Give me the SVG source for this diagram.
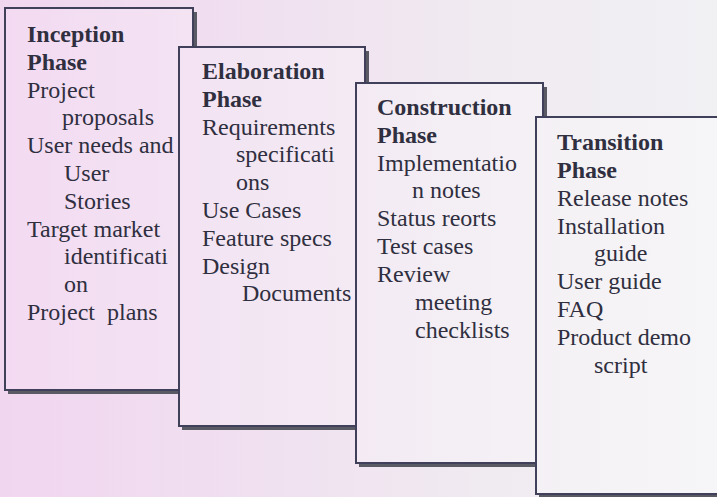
<svg xmlns="http://www.w3.org/2000/svg" width="717" height="497" viewBox="0 0 717 497">
<defs>
<linearGradient id="bg" x1="0" y1="0" x2="717" y2="0" gradientUnits="userSpaceOnUse">
<stop offset="0" stop-color="#f1d6f0"/>
<stop offset="0.35" stop-color="#f0e0f0"/>
<stop offset="0.7" stop-color="#f0ebf1"/>
<stop offset="1" stop-color="#f1f0f3"/>
</linearGradient>
<linearGradient id="boxfill" x1="0" y1="0" x2="717" y2="0" gradientUnits="userSpaceOnUse">
<stop offset="0" stop-color="#f3daf2"/>
<stop offset="0.35" stop-color="#f3e6f3"/>
<stop offset="0.7" stop-color="#f4f0f5"/>
<stop offset="1" stop-color="#f6f5f7"/>
</linearGradient>
</defs>
<style>
.shadow{fill:#5a5a64;}
.box{fill:url(#boxfill);stroke:#40405a;stroke-width:2;}
.t{font-family:"Liberation Serif","Times New Roman",serif;font-size:24px;fill:#2f2f40;}
.h{font-weight:bold;}
</style>
<rect x="0" y="0" width="717" height="497" fill="url(#bg)"/>
<g id="inception">
<rect class="shadow" x="8" y="12" width="189" height="382"/>
<rect class="box" x="5" y="8" width="188" height="382"/>
<text class="t">
<tspan class="h" x="27" y="42">Inception</tspan>
<tspan class="h" x="27" y="70">Phase</tspan>
<tspan x="27" y="98">Project</tspan>
<tspan x="62" y="125">proposals</tspan>
<tspan x="27" y="153">User needs and</tspan>
<tspan x="64" y="181">User</tspan>
<tspan x="64" y="209">Stories</tspan>
<tspan x="27" y="237">Target market</tspan>
<tspan x="64" y="264">identificati</tspan>
<tspan x="64" y="292">on</tspan>
<tspan x="27" y="320" xml:space="preserve">Project  plans</tspan>
</text>
</g>
<g id="elaboration">
<rect class="shadow" x="182" y="51" width="187" height="379"/>
<rect class="box" x="179" y="47" width="186" height="379"/>
<text class="t">
<tspan class="h" x="202" y="79">Elaboration</tspan>
<tspan class="h" x="202" y="107">Phase</tspan>
<tspan x="202" y="135">Requirements</tspan>
<tspan x="236" y="162">specificati</tspan>
<tspan x="236" y="190">ons</tspan>
<tspan x="202" y="218">Use Cases</tspan>
<tspan x="202" y="246">Feature specs</tspan>
<tspan x="202" y="274">Design</tspan>
<tspan x="242" y="301">Documents</tspan>
</text>
</g>
<g id="construction">
<rect class="shadow" x="359" y="87" width="188" height="380"/>
<rect class="box" x="356" y="83" width="187" height="380"/>
<text class="t">
<tspan class="h" x="377" y="115">Construction</tspan>
<tspan class="h" x="377" y="143">Phase</tspan>
<tspan x="377" y="171">Implementatio</tspan>
<tspan x="412" y="198">n notes</tspan>
<tspan x="377" y="226">Status reorts</tspan>
<tspan x="377" y="254">Test cases</tspan>
<tspan x="377" y="282">Review</tspan>
<tspan x="415" y="310">meeting</tspan>
<tspan x="415" y="338">checklists</tspan>
</text>
</g>
<g id="transition">
<rect class="shadow" x="539" y="121" width="190" height="377"/>
<rect class="box" x="536" y="117" width="190" height="377"/>
<text class="t">
<tspan class="h" x="557" y="150">Transition</tspan>
<tspan class="h" x="557" y="178">Phase</tspan>
<tspan x="557" y="206">Release notes</tspan>
<tspan x="557" y="234">Installation</tspan>
<tspan x="594" y="261">guide</tspan>
<tspan x="557" y="289">User guide</tspan>
<tspan x="557" y="317">FAQ</tspan>
<tspan x="557" y="345">Product demo</tspan>
<tspan x="594" y="373">script</tspan>
</text>
</g>
<g id="connectors"/>
</svg>
